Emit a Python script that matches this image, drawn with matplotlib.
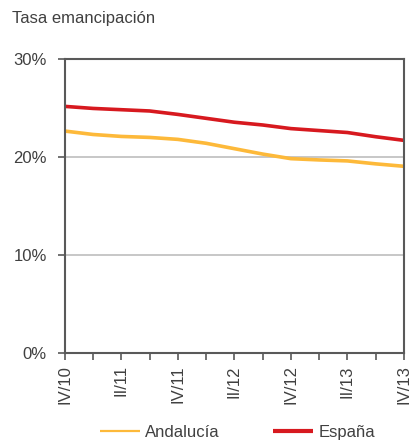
import matplotlib
matplotlib.use("Agg")
import matplotlib.pyplot as plt
from matplotlib.ticker import FuncFormatter

# quarterly data, IV/10 .. IV/13
quarters = ["IV/10", "I/11", "II/11", "III/11", "IV/11", "I/12", "II/12",
            "III/12", "IV/12", "I/13", "II/13", "III/13", "IV/13"]
andalucia = [22.65, 22.3, 22.1, 22.0, 21.8, 21.4, 20.85, 20.3, 19.83, 19.7, 19.6, 19.3, 19.05]
espana = [25.17, 24.96, 24.83, 24.7, 24.35, 23.95, 23.55, 23.27, 22.9, 22.7, 22.5, 22.07, 21.7]

grey = "#595959"
txt = "#404040"
plt.rcParams['font.family'] = ['Liberation Sans Narrow', 'Liberation Sans', 'DejaVu Sans']

fig = plt.figure(figsize=(4.13, 4.41), dpi=100)
ax = fig.add_axes([0.157, 0.200, 0.821, 0.666])

x = list(range(len(quarters)))
ax.plot(x, andalucia, color="#FDB93A", lw=2.6, label="Andalucía", solid_capstyle="butt")
ax.plot(x, espana, color="#D7191F", lw=2.6, label="España", solid_capstyle="butt")

ax.set_xlim(0, len(quarters) - 1)
ax.set_ylim(0, 30)
ax.set_yticks([0, 10, 20, 30])
ax.yaxis.set_major_formatter(FuncFormatter(lambda v, p: f"{v:.0f}%"))
ax.set_xticks(x)
ax.set_xticklabels([q if i % 2 == 0 else "" for i, q in enumerate(quarters)], rotation=90)

for v in [10, 20]:
    ax.axhline(v, color="#BEBEBE", lw=1.2, zorder=0)

for s in ax.spines.values():
    s.set_color(grey)
    s.set_linewidth(1.5)
ax.tick_params(axis="both", colors=grey, width=1.2, length=5, labelsize=12, labelcolor=txt)
ax.tick_params(axis="y", pad=8)
ax.tick_params(axis="x", pad=4)

fig.text(0.03, 0.958, "Tasa emancipación", fontsize=12, color=txt, va="center", ha="left")

h, l = ax.get_legend_handles_labels()
leg = fig.legend(h, l, loc="center", bbox_to_anchor=(0.575, 0.019), ncol=2, frameon=False,
                 fontsize=12, handlelength=2.4, columnspacing=3.2, handletextpad=0.3,
                 labelcolor=txt, borderpad=0)
# legend sample for Andalucía is drawn thinner in the original
leg.get_lines()[0].set_linewidth(1.6)
leg.get_lines()[1].set_linewidth(3)

fig.savefig("out.png", dpi=100)
